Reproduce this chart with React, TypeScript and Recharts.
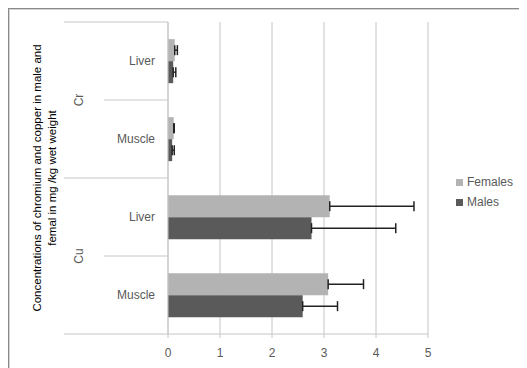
import {
  BarChart,
  Bar,
  XAxis,
  YAxis,
  CartesianGrid,
  ErrorBar,
  Legend,
} from "recharts";

const metals = ["Cr", "Cr", "Cu", "Cu"];
const tissues = ["Liver", "Muscle", "Liver", "Muscle"];
const females = [0.13, 0.11, 3.11, 3.08];
const femaleErr = [0.05, 0.01, 1.62, 0.68];
const males = [0.1, 0.08, 2.76, 2.59];
const maleErr = [0.05, 0.04, 1.62, 0.67];
const xTicks = [0, 1, 2, 3, 4, 5];

const titleLines = [
  "Concentrations of chromium and copper in male and",
  "femal in mg /kg wet weight",
];

const font = "'Liberation Sans', Arial, sans-serif";
const textGray = "#595959";
const lineGray = "#c6c6c6";

const data = tissues.map((tissue, i) => ({
  tissue,
  metal: metals[i],
  Females: females[i],
  fErr: [0, femaleErr[i]],
  Males: males[i],
  mErr: [0, maleErr[i]],
}));

// plot height / number of categories
const BAND = 312 / data.length;

const TissueTick = (props: any) => {
  const { x, y, payload, index } = props;
  const axisX = x + 13;
  const lastInGroup = index === data.length - 1 || metals[index + 1] !== metals[index];
  const firstInGroup = index === 0 || metals[index - 1] !== metals[index];
  return (
    <g>
      {index === 0 && (
        <line x1={56} x2={axisX} y1={y - BAND / 2} y2={y - BAND / 2} stroke={lineGray} />
      )}
      <line
        x1={lastInGroup ? 56 : 96}
        x2={axisX}
        y1={y + BAND / 2}
        y2={y + BAND / 2}
        stroke={lineGray}
      />
      <text
        x={x}
        y={y}
        dy="0.35em"
        textAnchor="end"
        fill={textGray}
        fontSize={12}
        fontFamily={font}
      >
        {payload.value}
      </text>
      {firstInGroup && (
        <text
          x={71}
          y={y + BAND / 2}
          dy="0.35em"
          textAnchor="middle"
          fill={textGray}
          fontSize={12}
          fontFamily={font}
          transform={`rotate(-90 71 ${y + BAND / 2})`}
        >
          {metals[index]}
        </text>
      )}
    </g>
  );
};

const AxisTitle = (props: any) => {
  const vb = props.viewBox || {};
  const cy = vb.y + vb.height / 2;
  const cx = 35;
  return (
    <text
      x={cx}
      y={cy}
      textAnchor="middle"
      fill="#000"
      fontSize={11.5}
      fontFamily={font}
      transform={`rotate(-90 ${cx} ${cy})`}
    >
      <tspan x={cx} dy="-0.15em">{titleLines[0]}</tspan>
      <tspan x={cx} dy="1.3em">{titleLines[1]}</tspan>
    </text>
  );
};

export default function App() {
  return (
    <div
      style={{
        width: 519,
        height: 360,
        boxShadow: "inset 1px 1px 0 #8a8a8a, inset 2px 2px 0 #d4d4d4",
        fontFamily: font,
      }}
    >
      <BarChart
        width={519}
        height={360}
        data={data}
        layout="vertical"
        margin={{ top: 14, right: 99, bottom: 4, left: 0 }}
        barCategoryGap="22%"
        barGap={0}
      >
        <CartesianGrid horizontal={false} stroke={lineGray} />
        <XAxis
          type="number"
          domain={[0, 5]}
          ticks={xTicks}
          height={30}
          stroke={lineGray}
          tickSize={4}
          tickMargin={10}
          tick={{ fill: textGray, fontSize: 12, fontFamily: font }}
        />
        <YAxis
          type="category"
          dataKey="tissue"
          width={160}
          stroke={lineGray}
          tickLine={false}
          tickSize={0}
          tickMargin={13}
          tick={<TissueTick />}
          label={<AxisTitle />}
        />
        <Bar dataKey="Females" fill="#b3b3b3" isAnimationActive={false}>
          <ErrorBar dataKey="fErr" direction="x" width={5} stroke="#222" strokeWidth={1.5} />
        </Bar>
        <Bar dataKey="Males" fill="#5a5a5a" isAnimationActive={false}>
          <ErrorBar dataKey="mErr" direction="x" width={5} stroke="#222" strokeWidth={1.5} />
        </Bar>
        <Legend
          layout="vertical"
          align="center"
          verticalAlign="middle"
          iconType="square"
          iconSize={7}
          formatter={(v: string) => <span style={{ color: textGray }}>{v}</span>}
          wrapperStyle={{
            left: 448,
            top: 164,
            width: 70,
            fontSize: 12,
            lineHeight: "20px",
          }}
        />
      </BarChart>
    </div>
  );
}
